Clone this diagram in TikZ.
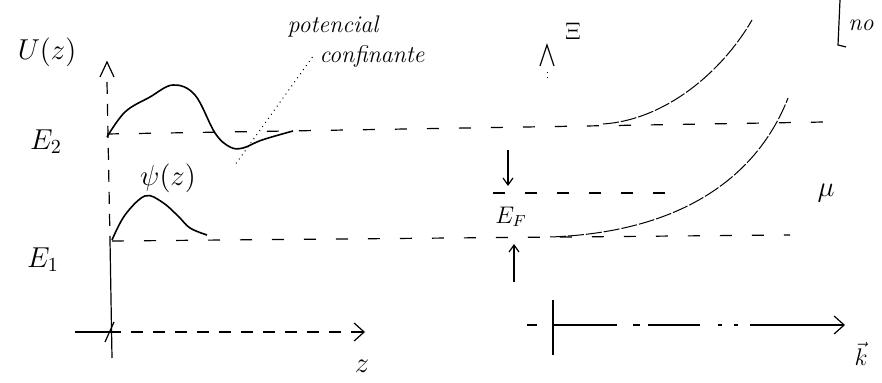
\documentclass[tikz,border=0pt]{standalone}
\usepackage{amsmath,amssymb}
\usetikzlibrary{arrows.meta,positioning,calc}

\begin{document}
\begin{tikzpicture}[
    % coordenadas en pixeles del dibujo, y hacia abajo
    x=0.5pt, y=-0.5pt,
    % Estilos
    eje/.style={line width=0.6pt},
    ejedash/.style={eje, dash pattern=on 6pt off 5pt},
    flecha/.style={-{Straight Barb[length=5pt,width=9pt]}},
    flechita/.style={-{Straight Barb[length=3.5pt,width=5pt]}},
    nivel/.style={line width=0.6pt, dash pattern=on 6pt off 10pt},
    curva/.style={line width=0.8pt},
    banda/.style={line width=0.5pt, dash pattern=on 8pt off 1pt},
    guia/.style={line width=0.5pt, dotted},
    lbl/.style={font=\large},
    txt/.style={font=\large\itshape}
]
\useasboundingbox (0,0) rectangle (882,383);

% --- PANEL IZQUIERDO (U(z) y psi(z)) ---
\coordinate (o1)   at (109,332);
\coordinate (u1)   at (110,240);
\coordinate (utop) at (107,62);

\draw[ejedash] (107,82) -- (u1);
\draw[eje] (u1) -- (112,358);
\draw[eje] ($(utop)+(-7,15)$) -- (utop) -- ($(utop)+(7,15)$);
\draw[eje] (75,332) -- (o1);
\draw[ejedash, flecha] (o1) -- (365,332);
\draw[eje] (105,342) -- (114,322);

% niveles E2 y E1
\draw[nivel] (107,134) -- (825,122);
\draw[nivel] (112,241) -- (790,235);

% potencial confinante
\draw[curva] plot[smooth, tension=0.6] coordinates
    {(107,137) (125,112) (150,97) (173,85) (195,95) (215,133) (230,147) (243,148) (262,140) (293,131)};

% funcion de onda
\draw[curva] plot[smooth, tension=0.6] coordinates
    {(112,240) (125,215) (145,196) (162,202) (178,216) (190,228) (207,235)};

% --- PANEL DERECHO (E vs k) ---
\coordinate (o2)   at (553,325);
\coordinate (etop) at (547,45);

\draw[eje] ($(etop)+(-7,21)$) -- (etop) -- ($(etop)+(7,21)$);
\draw[guia] (547,72) -- (547,82);
\draw[eje] (553,300) -- (553,355);
\draw[eje, flecha, dash pattern=on 5pt off 8pt on 32pt off 8pt on 3.5pt off 4pt on 26pt off 9pt on 2pt off 6pt on 2pt off 6pt on 50pt off 1pt]
    (527,325) -- (845,325);

% nivel de Fermi
\draw[nivel] (493,193) -- (680,193);
\draw[eje, flechita] (508,150) -- (508,186);
\draw[eje, flechita] (514,282) -- (514,244);

% subbandas
\draw[banda] (550,237) .. controls (690,232) and (760,170) .. (788,98);
\draw[banda] (603,124) .. controls (665,120) and (722,72) .. (752,20);

% corchete
\draw[eje] (840,0) -- (838,45) -- (846,47);

% --- ETIQUETAS ---
\node[font=\Large] (ulab)   at (47,52)   {$U(z)$};
\node[font=\Large] (e2lab)  at (46,142)  {$E_2$};
\node[font=\Large] (e1lab)  at (43,260)  {$E_1$};
\node[font=\Large] (psilab) at (168,178) {$\psi(z)$};
\node[font=\Large] (zlab)   at (362,366) {$z$};
\node[txt]         (pot)    at (333,27)  {potencial};
\node[txt]         (conf)   at (372,57)  {confinante};
\draw[guia] (conf.west) -- (235,165);

\node[lbl]         (xilab)  at (573,31)  {$\Xi$};
\node[lbl]         (eflab)  at (511,217) {$E_F$};
\node[font=\Large] (mulab)  at (826,193) {$\mu$};
\node[lbl]         (klab)   at (861,354) {$\vec{k}$};
\node[txt]         (nolab)  at (861,25)  {no};

\end{tikzpicture}
\end{document}
